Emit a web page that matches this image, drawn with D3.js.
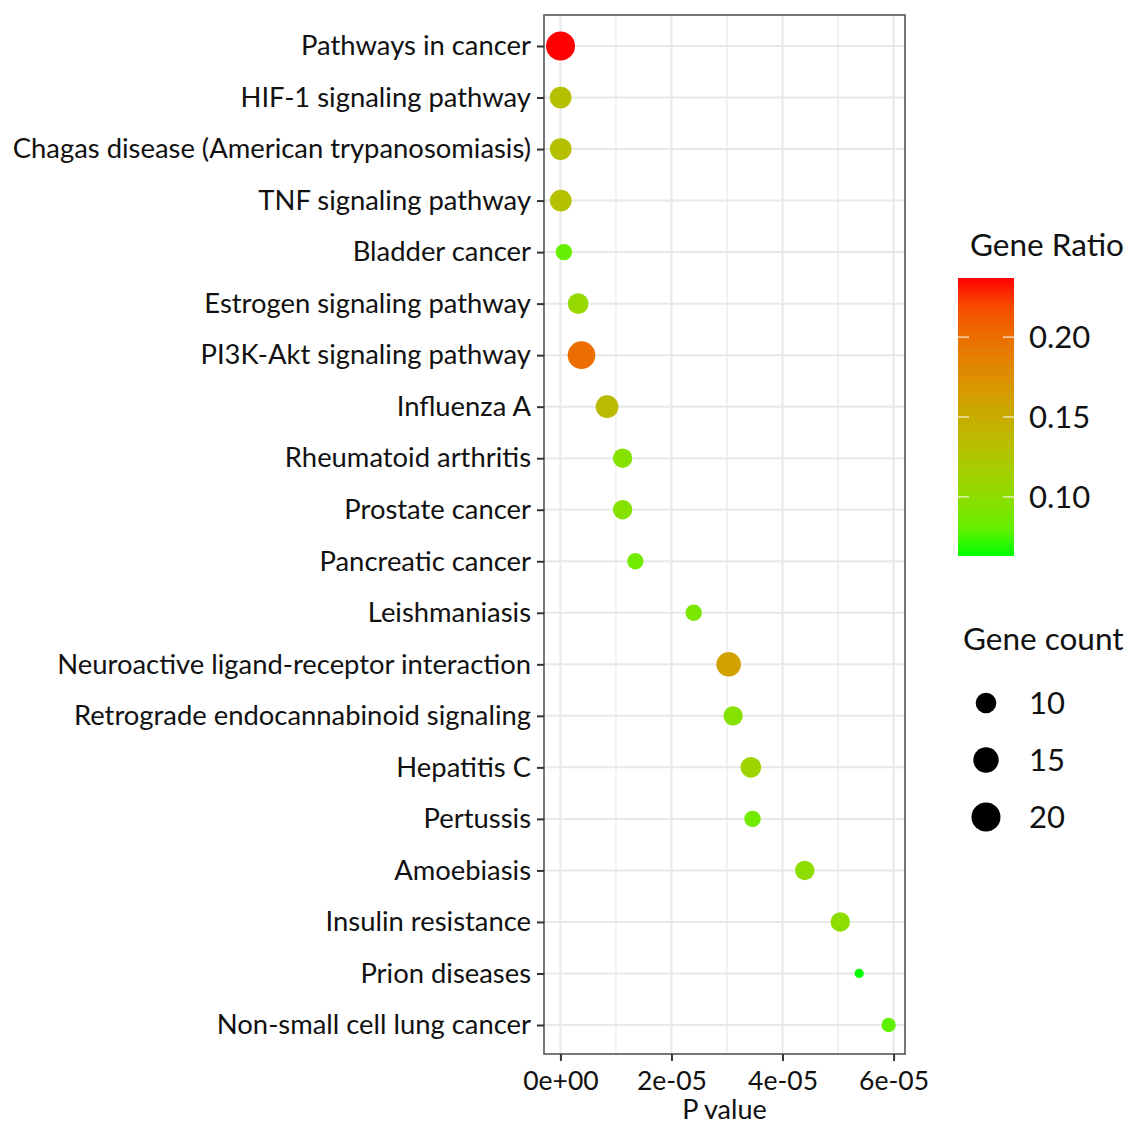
<!DOCTYPE html>
<html lang="en">
<head>
  <meta charset="UTF-8">
  <title>KEGG enrichment bubble chart</title>
  <style>
    body {
      margin: 0;
      padding: 0;
      background: #fff;
    }
    svg text {
      font-family: Lato, "Open Sans", sans-serif;
      fill: #111;
    }
  </style>
</head>
<body>
  <div id="chart"></div>

  <script src="https://d3js.org/d3.v7.min.js"></script>
  <script>
    // data (top to bottom)
    const pathways = [
      "Pathways in cancer",
      "HIF-1 signaling pathway",
      "Chagas disease (American trypanosomiasis)",
      "TNF signaling pathway",
      "Bladder cancer",
      "Estrogen signaling pathway",
      "PI3K-Akt signaling pathway",
      "Influenza A",
      "Rheumatoid arthritis",
      "Prostate cancer",
      "Pancreatic cancer",
      "Leishmaniasis",
      "Neuroactive ligand-receptor interaction",
      "Retrograde endocannabinoid signaling",
      "Hepatitis C",
      "Pertussis",
      "Amoebiasis",
      "Insulin resistance",
      "Prion diseases",
      "Non-small cell lung cancer"
    ];
    const pValues = [
      2e-8, 4e-8, 5e-8, 7e-8, 6.3e-7, 3.2e-6, 3.8e-6, 8.4e-6, 1.12e-5, 1.12e-5,
      1.35e-5, 2.4e-5, 3.03e-5, 3.11e-5, 3.43e-5, 3.46e-5, 4.4e-5, 5.04e-5, 5.38e-5, 5.91e-5
    ];
    const geneCounts = [20, 11, 11, 11, 7, 10, 18, 12, 9, 9, 7, 7, 14, 9, 10, 7, 9, 9, 5, 6];
    const geneRatios = [
      0.237, 0.13, 0.13, 0.13, 0.08, 0.105, 0.20, 0.135, 0.095, 0.095,
      0.085, 0.09, 0.16, 0.095, 0.11, 0.085, 0.10, 0.10, 0.063, 0.078
    ];
    const xTicks = [0, 2e-5, 4e-5, 6e-5];
    const xTickLabels = ["0e+00", "2e-05", "4e-05", "6e-05"];
    const xMinor = [1e-5, 3e-5, 5e-5];
    const ratioTicks = [0.10, 0.15, 0.20];
    const countLegend = [10, 15, 20];

    const width = 1127;
    const height = 1126;
    const panel = { left: 544, right: 905, top: 15, bottom: 1054 };

    const svg = d3.select("#chart")
      .append("svg")
      .attr("width", width)
      .attr("height", height);

    // scales
    const pMax = d3.max(pValues);
    const pad = pMax * 0.05;
    const x = d3.scaleLinear()
      .domain([-pad, pMax + pad])
      .range([panel.left, panel.right]);

    const y = d3.scalePoint()
      .domain(pathways)
      .range([46, 1025]);

    const ratioExtent = d3.extent(geneRatios);
    const color = d3.scaleLinear()
      .domain(ratioExtent)
      .range(["#00ff00", "#ff0000"])
      .interpolate(d3.interpolateLab);

    // ggplot-like area scale: rescale to 0..1, sqrt, then to radius range
    const countExtent = d3.extent(geneCounts);
    const countNorm = d3.scaleLinear().domain(countExtent).range([0, 1]).clamp(true);
    const radiusRange = d3.scaleLinear().domain([0, 1]).range([4.6, 14.5]);
    const radius = v => radiusRange(Math.sqrt(countNorm(v)));

    // grid
    const grid = svg.append("g");
    grid.selectAll(".minor")
      .data(xMinor)
      .enter()
      .append("line")
      .attr("x1", d => x(d)).attr("x2", d => x(d))
      .attr("y1", panel.top).attr("y2", panel.bottom)
      .attr("stroke", "#eeeeee")
      .attr("stroke-width", 1.5);
    grid.selectAll(".major")
      .data(xTicks)
      .enter()
      .append("line")
      .attr("x1", d => x(d)).attr("x2", d => x(d))
      .attr("y1", panel.top).attr("y2", panel.bottom)
      .attr("stroke", "#e8e8e8")
      .attr("stroke-width", 2);
    grid.selectAll(".hline")
      .data(pathways)
      .enter()
      .append("line")
      .attr("x1", panel.left).attr("x2", panel.right)
      .attr("y1", d => y(d)).attr("y2", d => y(d))
      .attr("stroke", "#e8e8e8")
      .attr("stroke-width", 2);

    // points
    svg.append("g")
      .selectAll("circle")
      .data(pathways)
      .enter()
      .append("circle")
      .attr("cx", (d, i) => x(pValues[i]))
      .attr("cy", d => y(d))
      .attr("r", (d, i) => radius(geneCounts[i]))
      .attr("fill", (d, i) => color(geneRatios[i]));

    // panel border
    svg.append("rect")
      .attr("x", panel.left)
      .attr("y", panel.top)
      .attr("width", panel.right - panel.left)
      .attr("height", panel.bottom - panel.top)
      .attr("fill", "none")
      .attr("stroke", "#555")
      .attr("stroke-width", 1.6);

    // y axis
    const yAxis = svg.append("g")
      .attr("transform", `translate(${panel.left},0)`)
      .call(d3.axisLeft(y).tickSize(7).tickPadding(6));
    yAxis.select(".domain").remove();
    yAxis.selectAll(".tick line").attr("stroke", "#333").attr("stroke-width", 2);
    yAxis.selectAll(".tick text")
      .attr("font-size", 27.4)
      .attr("fill", "#111")
      .style("font-family", "Lato, 'Open Sans', sans-serif");

    // x axis
    const xAxis = svg.append("g")
      .attr("transform", `translate(0,${panel.bottom})`)
      .call(d3.axisBottom(x).tickValues(xTicks).tickFormat((d, i) => xTickLabels[i]).tickSize(7).tickPadding(10));
    xAxis.select(".domain").remove();
    xAxis.selectAll(".tick line").attr("stroke", "#333").attr("stroke-width", 2);
    xAxis.selectAll(".tick text")
      .attr("font-size", 26.5)
      .attr("fill", "#111")
      .style("font-family", "Lato, 'Open Sans', sans-serif");

    svg.append("text")
      .attr("x", (panel.left + panel.right) / 2)
      .attr("y", 1119)
      .attr("text-anchor", "middle")
      .attr("font-size", 27)
      .text("P value");

    // colour legend
    const barX = 958, barW = 56, barTop = 278, barBottom = 556;
    svg.append("text")
      .attr("x", 970)
      .attr("y", 256)
      .attr("font-size", 31.5)
      .text("Gene Ratio");

    const defs = svg.append("defs");
    const grad = defs.append("linearGradient")
      .attr("id", "ratio-grad")
      .attr("x1", 0).attr("x2", 0).attr("y1", 1).attr("y2", 0);
    d3.range(0, 1.0001, 0.1).forEach(t => {
      grad.append("stop")
        .attr("offset", t)
        .attr("stop-color", color(ratioExtent[0] + t * (ratioExtent[1] - ratioExtent[0])));
    });
    svg.append("rect")
      .attr("x", barX).attr("y", barTop)
      .attr("width", barW).attr("height", barBottom - barTop)
      .attr("fill", "url(#ratio-grad)");

    const barY = d3.scaleLinear().domain(ratioExtent).range([barBottom, barTop]);
    const barTicks = svg.append("g");
    ratioTicks.forEach(v => {
      barTicks.append("line")
        .attr("x1", barX).attr("x2", barX + 11)
        .attr("y1", barY(v)).attr("y2", barY(v))
        .attr("stroke", "#fff").attr("stroke-opacity", 0.7).attr("stroke-width", 1.5);
      barTicks.append("line")
        .attr("x1", barX + barW - 11).attr("x2", barX + barW)
        .attr("y1", barY(v)).attr("y2", barY(v))
        .attr("stroke", "#fff").attr("stroke-opacity", 0.7).attr("stroke-width", 1.5);
      barTicks.append("text")
        .attr("x", 1029)
        .attr("y", barY(v))
        .attr("dy", "0.35em")
        .attr("font-size", 31)
        .text(v.toFixed(2));
    });

    // size legend
    svg.append("text")
      .attr("x", 963)
      .attr("y", 650)
      .attr("font-size", 31.5)
      .text("Gene count");

    const sizeY = d3.scalePoint().domain(countLegend).range([703, 817]);
    const sizeLeg = svg.append("g");
    sizeLeg.selectAll("circle")
      .data(countLegend)
      .enter()
      .append("circle")
      .attr("cx", 986)
      .attr("cy", d => sizeY(d))
      .attr("r", d => radius(d))
      .attr("fill", "#000");
    sizeLeg.selectAll("text")
      .data(countLegend)
      .enter()
      .append("text")
      .attr("x", 1029)
      .attr("y", d => sizeY(d))
      .attr("dy", "0.35em")
      .attr("font-size", 31)
      .text(d => d);
  </script>
</body>
</html>
